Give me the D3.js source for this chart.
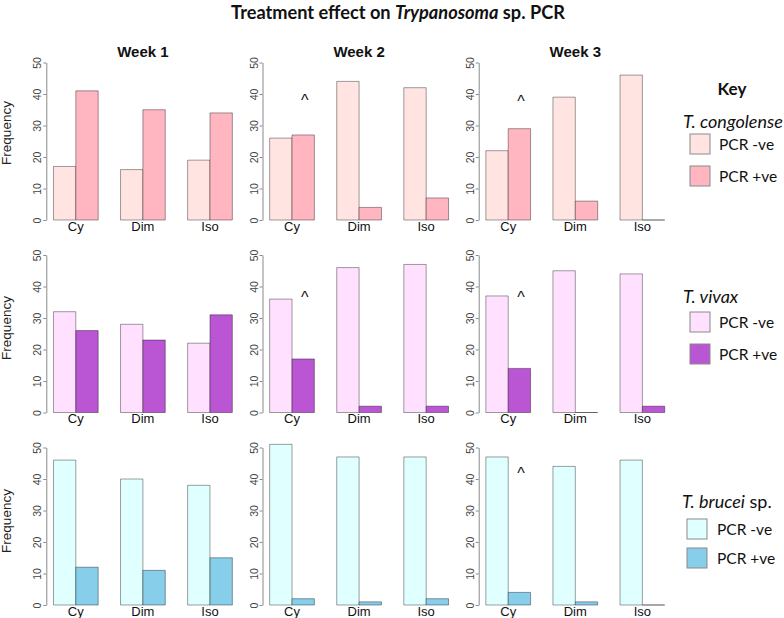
<!DOCTYPE html>
<html>
<head>
<meta charset="utf-8">
<script src="https://cdn.jsdelivr.net/npm/d3@7"></script>
<style>
  html, body { margin: 0; padding: 0; background: #fff; }
  svg { display: block; }
</style>
</head>
<body>
<svg id="chart" width="784" height="618"></svg>
<script>
// ---------------- data ----------------
const weeks = ["Week 1", "Week 2", "Week 3"];
const treatments = ["Cy", "Dim", "Iso"];
const results = ["neg", "pos"];
const species = ["T. congolense", "T. vivax", "T. brucei"];
const yTicks = [0, 10, 20, 30, 40, 50];

// [week][treatment] = [PCR -ve, PCR +ve]
const congolense = [
  [[17, 41], [16, 35], [19, 34]],
  [[26, 27], [44, 4], [42, 7]],
  [[22, 29], [39, 6], [46, 0]]
];
const vivax = [
  [[32, 26], [28, 23], [22, 31]],
  [[36, 17], [46, 2], [47, 2]],
  [[37, 14], [45, 0], [44, 2]]
];
const brucei = [
  [[46, 12], [40, 11], [38, 15]],
  [[51, 2], [47, 1], [47, 2]],
  [[47, 4], [44, 1], [46, 0]]
];
// "^" marks: [row, week index, y value]
const carets = [[0, 1, 39], [0, 2, 38.7], [1, 1, 37.4], [1, 2, 37.4], [2, 2, 42.8]];

const negColors = ["#FFE4E1", "#FFE1FF", "#E0FFFF"];
const posColors = ["#FFB6C1", "#BA55D3", "#87CEEB"];
const legendLabels = ["PCR -ve", "PCR +ve"];

const rows = [congolense, vivax, brucei];

// ---------------- layout ----------------
const svg = d3.select("#chart");
const rFont = "'Liberation Sans', Arial, sans-serif";
const cFont = "Lato, 'Open Sans', sans-serif";

const panelX0 = [46.3, 262.5, 478.7];
const panelW = 193.2;
const rowY0 = [220, 412.5, 605];
const rowH = 157.5;
const freqY = [133, 328, 521];

// title
const title = svg.append("text")
  .attr("x", 398).attr("y", 18.5)
  .attr("text-anchor", "middle")
  .attr("font-family", cFont).attr("font-weight", "bold").attr("font-size", 18.2)
  .attr("fill", "#111");
title.append("tspan").text("Treatment effect on ");
title.append("tspan").attr("font-style", "italic").text("Trypanosoma");
title.append("tspan").text(" sp. PCR");

rows.forEach((rowData, r) => {
  const y = d3.scaleLinear().domain([0, 50]).range([rowY0[r], rowY0[r] - rowH]);

  // Frequency label
  svg.append("text")
    .attr("transform", `translate(11,${freqY[r]}) rotate(-90)`)
    .attr("text-anchor", "middle")
    .attr("font-family", rFont).attr("font-size", 13.5)
    .attr("fill", "#222")
    .text("Frequency");

  rowData.forEach((weekData, w) => {
    const x0 = panelX0[w];
    // R barplot units: bars span [1, 9], plot region extends 4%
    const xu = d3.scaleLinear().domain([0.68, 9.32]).range([x0, x0 + panelW]);
    const xg = d3.scaleBand().domain(treatments)
      .range([xu(1), xu(9)]).paddingInner(1 / 3).paddingOuter(0);
    const xs = d3.scaleBand().domain(results).range([0, xg.bandwidth()]);

    const g = svg.append("g");

    // week title (top row only)
    if (r === 0) {
      svg.append("text")
        .attr("x", x0 + panelW / 2).attr("y", 56.5)
        .attr("text-anchor", "middle")
        .attr("font-family", rFont).attr("font-weight", "bold").attr("font-size", 15)
        .attr("fill", "#111")
        .text(weeks[w]);
    }

    // y axis
    const axis = d3.axisLeft(y).tickValues(yTicks).tickSize(3).tickSizeOuter(0).tickFormat(d3.format("d"));
    const ag = g.append("g").attr("transform", `translate(${x0},0)`).call(axis);
    ag.select(".domain").attr("stroke", "#8a8a8a");
    ag.selectAll(".tick line").attr("stroke", "#8a8a8a");
    ag.selectAll(".tick text")
      .attr("font-family", rFont).attr("font-size", 10.5).attr("fill", "#444")
      .attr("x", null).attr("dy", null)
      .attr("text-anchor", "middle")
      .attr("transform", "translate(-5,0) rotate(-90)");

    // bars
    const bars = [];
    weekData.forEach((vals, t) => {
      vals.forEach((v, k) => {
        bars.push({ t: treatments[t], k: results[k], v: v });
      });
    });
    g.selectAll("path.bar").data(bars).enter().append("path")
      .attr("class", "bar")
      .attr("d", d => {
        const bx = xg(d.t) + xs(d.k);
        const bw = xs.bandwidth();
        const top = y(d.v), bot = y(0);
        return `M${bx},${bot}V${top}H${bx + bw}V${bot}Z`;
      })
      .attr("fill", d => d.k === "neg" ? negColors[r] : posColors[r])
      .attr("stroke", "rgba(0,0,0,0.38)")
      .attr("stroke-width", 1);

    // category labels
    g.selectAll("text.cat").data(treatments).enter().append("text")
      .attr("class", "cat")
      .attr("x", d => xg(d) + xg.bandwidth() / 2)
      .attr("y", rowY0[r] + 10.8)
      .attr("text-anchor", "middle")
      .attr("font-family", rFont).attr("font-size", 13)
      .attr("fill", "#111")
      .text(d => d);

    // carets
    carets.filter(c => c[0] === r && c[1] === w).forEach(c => {
      g.append("text")
        .attr("x", xg("Cy") + xs("pos") + xs.bandwidth() / 2 + 1.5)
        .attr("y", y(c[2]) + 8.5)
        .attr("text-anchor", "middle")
        .attr("font-family", rFont).attr("font-size", 16)
        .attr("fill", "#111")
        .text("^");
    });
  });
});

// ---------------- key ----------------
svg.append("text")
  .attr("x", 732).attr("y", 95)
  .attr("text-anchor", "middle")
  .attr("font-family", cFont).attr("font-weight", "bold").attr("font-size", 17)
  .attr("fill", "#111")
  .text("Key");

const legendPos = [
  { tx: 683, ty: 128, bx: 690, by: [134, 166], lx: 719 },
  { tx: 683, ty: 303, bx: 690, by: [312, 344], lx: 719 },
  { tx: 682, ty: 508, bx: 687, by: [519, 548], lx: 717 }
];

species.forEach((sp, i) => {
  const p = legendPos[i];
  const t = svg.append("text")
    .attr("x", p.tx).attr("y", p.ty)
    .attr("font-family", cFont).attr("font-size", 18)
    .attr("fill", "#111");
  if (i === 2) {
    t.append("tspan").attr("font-style", "italic").text(sp);
    t.append("tspan").text(" sp.");
  } else {
    t.append("tspan").attr("font-style", "italic").text(sp);
  }
  [negColors[i], posColors[i]].forEach((col, k) => {
    svg.append("rect")
      .attr("x", p.bx).attr("y", p.by[k])
      .attr("width", 20).attr("height", 20)
      .attr("fill", col)
      .attr("stroke", "#8a8a8a").attr("stroke-width", 1);
    svg.append("text")
      .attr("x", p.lx).attr("y", p.by[k] + 16)
      .attr("font-family", cFont).attr("font-size", 15.5)
      .attr("fill", "#111")
      .text(legendLabels[k]);
  });
});
</script>
</body>
</html>
